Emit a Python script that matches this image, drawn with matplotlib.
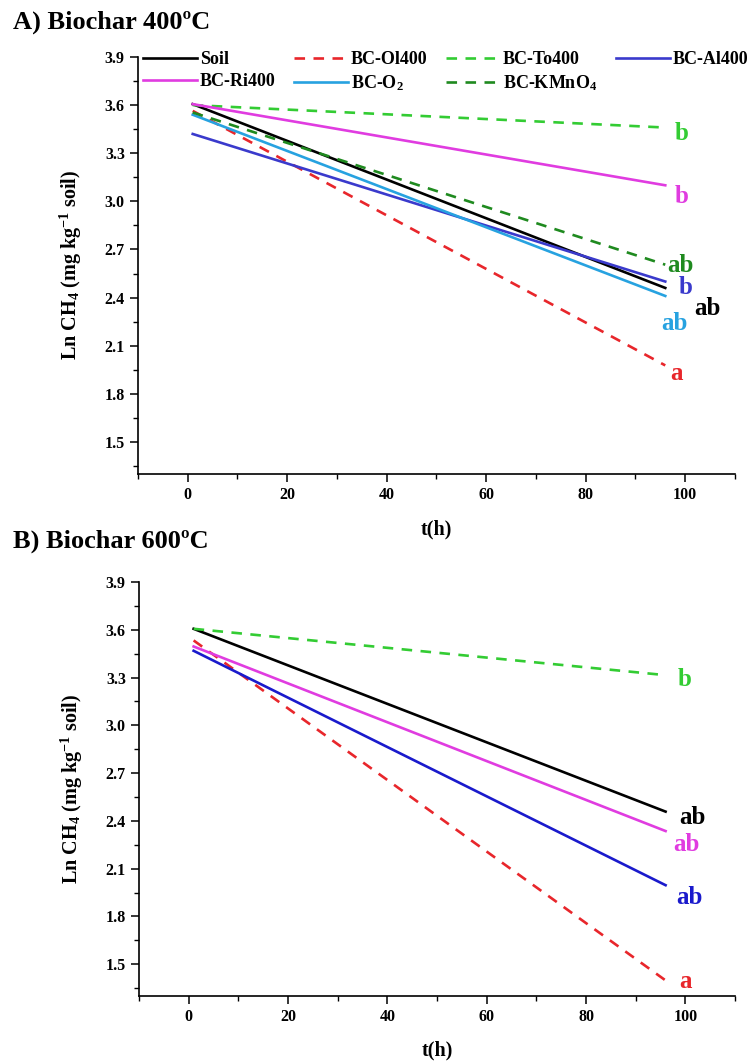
import numpy as np
import matplotlib.pyplot as plt
from matplotlib.ticker import MultipleLocator, FormatStrFormatter

plt.rcParams['font.family'] = 'Liberation Serif'
plt.rcParams['font.weight'] = 'bold'
plt.rcParams['mathtext.fontset'] = 'custom'
plt.rcParams['mathtext.rm'] = 'Liberation Serif:bold'
plt.rcParams['mathtext.it'] = 'Liberation Serif:bold'
plt.rcParams['mathtext.bf'] = 'Liberation Serif:bold'
plt.rcParams['mathtext.default'] = 'rm'

t = [1, 96]

# A) biochar 400 C
names_a = ['Soil', 'BC-Ol400', 'BC-To400', 'BC-Al400', 'BC-Ri400', 'BC-O$_2$', 'BC-KMnO$_4$']
start_a = [3.606, 3.564, 3.600, 3.420, 3.606, 3.540, 3.554]
end_a = [2.460, 1.977, 3.460, 2.500, 3.100, 2.410, 2.605]
letters_a = ['ab', 'a', 'b', 'b', 'b', 'ab', 'ab']
lab_t_a = [104.4, 98.2, 99.2, 100.0, 99.2, 97.8, 99.0]
lab_y_a = [2.33, 1.925, 3.425, 2.46, 3.03, 2.24, 2.60]

# B) biochar 600 C
names_b = ['Soil', 'BC-Ol600', 'BC-To600', 'BC-Al600', 'BC-Ri600']
start_b = [3.606, 3.533, 3.606, 3.468, 3.495]
end_b = [2.458, 1.398, 3.315, 1.996, 2.336]
letters_b = ['ab', 'a', 'b', 'ab', 'ab']
lab_t_b = [101.4, 100.0, 99.8, 100.8, 100.2]
lab_y_b = [2.424, 1.39, 3.29, 1.92, 2.254]

styles_a = [('#000000', '-'), ('#e8262b', '--'), ('#33cc33', '--'), ('#3a3acc', '-'),
            ('#e03ce0', '-'), ('#27a2e0', '-'), ('#1f8a1f', '--')]
styles_b = [('#000000', '-'), ('#e8262b', '--'), ('#33cc33', '--'), ('#1a1acc', '-'),
            ('#e03ce0', '-')]

fig = plt.figure(figsize=(7.48, 10.63), dpi=100)
ax1 = fig.add_axes([0.1845, 0.5541, 0.798, 0.3923])
ax2 = fig.add_axes([0.1858, 0.0630, 0.797, 0.3895])


def draw(ax, names, start, end, styles, letters, lt, ly):
    handles = []
    for i in range(len(names)):
        c, ls = styles[i]
        h, = ax.plot(t, [start[i], end[i]], color=c, ls=ls, lw=1.9,
                     dashes=(4, 3.2) if ls == '--' else (None, None), label=names[i])
        handles.append(h)
        ax.text(lt[i], ly[i], letters[i], color=c, fontsize=18, fontweight='bold',
                ha='center', va='center')
    ax.set_xlim(-10, 110)
    ax.set_ylim(1.3, 3.9)
    ax.xaxis.set_major_locator(MultipleLocator(20))
    ax.xaxis.set_minor_locator(MultipleLocator(10))
    ax.yaxis.set_major_locator(MultipleLocator(0.3))
    ax.yaxis.set_minor_locator(MultipleLocator(0.15))
    ax.yaxis.set_major_formatter(FormatStrFormatter('%.1f'))
    ax.set_yticks(np.arange(1.5, 3.95, 0.3))
    for s in ['top', 'right']:
        ax.spines[s].set_visible(False)
    for s in ['left', 'bottom']:
        ax.spines[s].set_linewidth(1.2)
    ax.tick_params(which='major', direction='out', length=6, width=1.1, labelsize=11.5)
    ax.tick_params(which='minor', direction='out', length=3.5, width=1.0)
    ax.set_xlabel('t(h)', fontsize=14.5, fontweight='bold')
    ax.xaxis.set_label_coords(0.5, -0.108)
    ax.set_ylabel('Ln CH$_4$ (mg kg$^{-1}$ soil)', fontsize=14.5, fontweight='bold')
    ax.yaxis.set_label_coords(-0.09, 0.5)
    return handles


hA = draw(ax1, names_a, start_a, end_a, styles_a, letters_a, lab_t_a, lab_y_a)
draw(ax2, names_b, start_b, end_b, styles_b, letters_b, lab_t_b, lab_y_b)

order = [0, 4, 1, 5, 2, 6, 3]
fig.legend([hA[i] for i in order], [names_a[i] for i in order], ncol=4,
           loc='upper left', bbox_to_anchor=(143 / 748, 0.921, 605 / 748, 0.031),
           mode='expand', frameon=False, handlelength=3.0,
           handletextpad=0.15, columnspacing=0.5, labelspacing=0.3,
           borderaxespad=0, borderpad=0, prop={'weight': 'bold', 'size': 13})

fig.text(13 / 748, 1 - 22 / 1063, 'A) Biochar 400ºC', fontsize=19, fontweight='bold',
         ha='left', va='center')
fig.text(13 / 748, 1 - 541 / 1063, 'B) Biochar 600ºC', fontsize=19, fontweight='bold',
         ha='left', va='center')

fig.savefig('out.png', dpi=100)
